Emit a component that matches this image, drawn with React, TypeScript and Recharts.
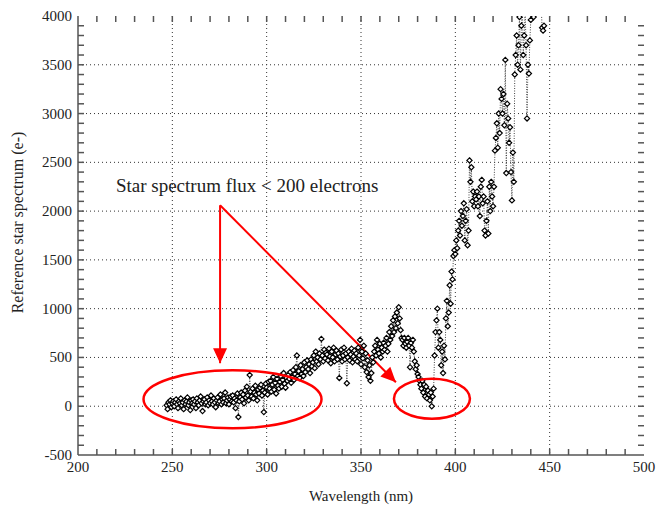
import React from "react"
import {
  ComposedChart,
  Line,
  XAxis,
  YAxis,
  CartesianGrid,
  ReferenceDot,
  ReferenceLine,
} from "recharts"

// flux (e-) sampled every 0.5 nm starting at 247 nm, one row = 5 nm
const WAVE_START = 247
const WAVE_STEP = 0.5
const fluxRows: number[][] = [
  [10, -30, 40, 20, 60, -10, 30, 50, 0, 40],
  [70, 20, -20, 50, 30, 80, 10, 40, -30, 60],
  [20, 50, 90, 10, 40, -40, 60, 30, 70, 20],
  [50, -20, 80, 40, 10, 60, 100, 30, -50, 50],
  [70, 20, 40, 90, 10, 60, 30, 110, 50, 20],
  [80, 40, -10, 60, 90, 30, 50, 120, 20, 70],
  [40, 80, 140, 30, 60, 90, 20, 70, 100, 50],
  [110, 40, 80, -20, 60, 130, -110, 50, 90, 140],
  [70, 120, 30, 160, 90, 200, 110, 60, 320, 150],
  [100, 180, 80, 140, 210, 120, 60, 170, 130, 190],
  [220, 110, 160, -60, 140, 230, 190, 120, 250, 180],
  [260, 150, 220, 300, 170, 240, 130, 280, 210, 180],
  [250, 310, 200, 270, 340, 230, 190, 290, 260, 320],
  [280, 350, 240, 300, 370, 270, 330, 400, 520, 310],
  [360, 290, 420, 330, 380, 310, 450, 350, 400, 470],
  [380, 430, 340, 480, 410, 450, 520, 390, 560, 460],
  [500, 430, 540, 480, 690, 520, 460, 580, 490, 550],
  [530, 470, 590, 510, 440, 560, 500, 600, 460, 530],
  [570, 480, 540, 290, 510, 580, 460, 520, 600, 480],
  [540, 235, 500, 560, 470, 530, 590, 450, 510, 570],
  [480, 540, 460, 600, 520, 680, 430, 560, 490, 620],
  [400, 540, 350, 470, 300, 420, 260, 340, 500, 450],
  [560, 620, 520, 680, 580, 540, 640, 500, 600, 560],
  [650, 580, 620, 700, 560, 640, 760, 680, 820, 720],
  [880, 760, 920, 800, 960, 850, 1015, 900, 780, 700],
  [680, 620, 700, 640, 600, 660, 700, 620, 400, 650],
  [600, 680, 560, 460, 380, 420, 330, 300, 260, 220],
  [180, 260, 140, 220, 100, 200, 80, 160, 120, 60],
  [140, 0, 100, 180, 520, 760, 880, 1000, 600, 760],
  [680, 420, 560, 340, 620, 480, 900, 1080, 820, 960],
  [1240, 1050, 1380, 1300, 1540, 1600, 1560, 1700, 1620, 1800],
  [1900, 1750, 2000, 1850, 1950, 2080, 1700, 1900, 2020, 1650],
  [1800, 2520, 2300, 2450, 2100, 2200, 2050, 2150, 2120, 2200],
  [2050, 2150, 1950, 2250, 2320, 2080, 2150, 1800, 1750, 1900],
  [2100, 1770, 2250, 2000, 2300, 2150, 2050, 2250, 2620, 2750],
  [2900, 2650, 3000, 2800, 3250, 3150, 3000, 3200, 2880, 3550],
  [2390, 3100, 2950, 2700, 2860, 2400, 2110, 2600, 2300, 3400],
  [3600, 3800, 3500, 3700, 3990, 3450, 3900, 4100, 3600, 3800],
  [4050, 3700, 2950, 3500, 3410, 3750, 3960, 4030, 4100, 3990],
  [4050, 4200, 4100, 4300, 4150, 4200, 4250, 4100, 3880, 3850],
  [3900],
]

const xTicks = [
  200, 210, 220, 230, 240, 250, 260, 270, 280, 290, 300, 310, 320, 330, 340, 350,
  360, 370, 380, 390, 400, 410, 420, 430, 440, 450, 460, 470, 480, 490, 500,
]
const xGrid = [250, 300, 350, 400, 450]
const yTicks = [
  -500, -400, -300, -200, -100, 0, 100, 200, 300, 400, 500, 600, 700, 800, 900, 1000,
  1100, 1200, 1300, 1400, 1500, 1600, 1700, 1800, 1900, 2000, 2100, 2200, 2300, 2400,
  2500, 2600, 2700, 2800, 2900, 3000, 3100, 3200, 3300, 3400, 3500, 3600, 3700, 3800,
  3900, 4000,
]
const yGrid = [0, 500, 1000, 1500, 2000, 2500, 3000, 3500]
const X_MIN = 200
const X_MAX = 500
const Y_MIN = -500
const Y_MAX = 4000

// annotation anchors in data units
const noteText = "Star spectrum flux < 200 electrons"
const notePos = { x: 220.1, y: 2193 }
const arrowFrom = { x: 275.3, y: 2060 }
const arrowTips = [
  { x: 275.3, y: 441 },
  { x: 368.5, y: 246 },
]
const ellipses = [
  { x: 281.9, y: 72, rx: 89, ry: 29 },
  { x: 387.6, y: 77, rx: 38, ry: 20 },
]

const data = fluxRows.flat().map((flux, i) => ({
  wavelength: WAVE_START + i * WAVE_STEP,
  flux,
}))

const W = 657
const H = 508
const margin = { top: 16, right: 13, bottom: 3, left: 8 }
const plotW = W - margin.left - 70 - margin.right
const plotH = H - margin.top - 50 - margin.bottom
const pxX = plotW / (X_MAX - X_MIN)
const pxY = plotH / (Y_MAX - Y_MIN)

const FONT = "'Liberation Serif', 'Times New Roman', serif"
const AXIS = "#555"
const TEXT = "#222"
const RED = "#f00"
const TICK = 6
const tickDX = TICK / pxX
const tickDY = TICK / pxY

const BottomTick = (p: any) => {
  const v = p.payload.value
  if (v % 50 !== 0) return <g />
  return (
    <text x={p.x} y={p.y + 17} textAnchor="middle" fontSize={15} fontFamily={FONT} fill={TEXT}>
      {v}
    </text>
  )
}
const LeftTick = (p: any) => {
  const v = p.payload.value
  if (v % 500 !== 0) return <g />
  return (
    <text x={p.x - 6} y={p.y + 5} textAnchor="end" fontSize={15} fontFamily={FONT} fill={TEXT}>
      {v}
    </text>
  )
}

const YLabel = () => {
  const cx = margin.left + 15
  const cy = margin.top + plotH / 2 - 13
  return (
    <text
      x={cx}
      y={cy}
      transform={`rotate(-90, ${cx}, ${cy})`}
      textAnchor="middle"
      fontSize={16}
      fontFamily={FONT}
      fill={TEXT}
    >
      Reference star spectrum (e-)
    </text>
  )
}

const Diamond = (p: any) => {
  const { cx, cy } = p
  if (cx == null || cy == null) return null
  return (
    <polygon
      key={p.index}
      points={`${cx},${cy - 2.6} ${cx + 2.6},${cy} ${cx},${cy + 2.6} ${cx - 2.6},${cy}`}
      fill="#fff"
      stroke="#000"
      strokeWidth={1.2}
    />
  )
}

const headShape = (from: { x: number; y: number }, to: { x: number; y: number }) => {
  const ang = (Math.atan2(-(to.y - from.y) * pxY, (to.x - from.x) * pxX) * 180) / Math.PI
  return (p: any) => (
    <polygon
      points="0,0 -15,-7 -15,7"
      transform={`translate(${p.cx},${p.cy}) rotate(${ang})`}
      fill={RED}
    />
  )
}

// inward tick marks on all four sides
const tickSegments = [
  ...xTicks.slice(1, -1).flatMap((v) => [
    [{ x: v, y: Y_MIN }, { x: v, y: Y_MIN + tickDY }],
    [{ x: v, y: Y_MAX }, { x: v, y: Y_MAX - tickDY }],
  ]),
  ...yTicks.slice(1, -1).flatMap((v) => [
    [{ x: X_MIN, y: v }, { x: X_MIN + tickDX, y: v }],
    [{ x: X_MAX, y: v }, { x: X_MAX - tickDX, y: v }],
  ]),
]

export default function App() {
  return (
    <div
      style={{
        position: "absolute",
        left: 0,
        top: 0,
        width: W,
        height: H,
        background: "#fff",
        fontFamily: FONT,
      }}
    >
      <ComposedChart width={W} height={H} data={data} margin={margin}>
        <CartesianGrid
          stroke="#333"
          strokeDasharray="1 3"
          verticalValues={xGrid}
          horizontalValues={yGrid}
        />
        <XAxis
          dataKey="wavelength"
          type="number"
          domain={[X_MIN, X_MAX]}
          ticks={xTicks}
          interval={0}
          height={50}
          tickSize={0}
          tickMargin={0}
          tickLine={false}
          tick={BottomTick}
          axisLine={{ stroke: AXIS, strokeWidth: 1.5 }}
          label={{
            value: "Wavelength (nm)",
            position: "insideBottom",
            offset: 4,
            fontSize: 15,
            fontFamily: FONT,
            fill: TEXT,
          }}
        />
        <XAxis
          xAxisId="top"
          orientation="top"
          dataKey="wavelength"
          type="number"
          domain={[X_MIN, X_MAX]}
          height={0}
          tickLine={false}
          tick={false}
          axisLine={{ stroke: AXIS, strokeWidth: 1.5 }}
        />
        <YAxis
          type="number"
          domain={[Y_MIN, Y_MAX]}
          allowDataOverflow
          ticks={yTicks}
          interval={0}
          width={70}
          tickSize={0}
          tickMargin={0}
          tickLine={false}
          tick={LeftTick}
          axisLine={{ stroke: AXIS, strokeWidth: 1.5 }}
          label={{ content: YLabel }}
        />
        <YAxis
          yAxisId="right"
          orientation="right"
          type="number"
          domain={[Y_MIN, Y_MAX]}
          width={0}
          tickLine={false}
          tick={false}
          axisLine={{ stroke: AXIS, strokeWidth: 1.5 }}
        />
        {tickSegments.map((s, i) => (
          <ReferenceLine
            key={"t" + i}
            segment={s}
            stroke={AXIS}
            strokeWidth={1.5}
            ifOverflow="visible"
          />
        ))}
        <Line
          dataKey="flux"
          type="linear"
          stroke="#444"
          strokeWidth={1}
          strokeDasharray="1 1.5"
          dot={Diamond}
          activeDot={false}
          isAnimationActive={false}
        />
        {ellipses.map((e, i) => (
          <ReferenceDot
            key={"e" + i}
            x={e.x}
            y={e.y}
            ifOverflow="visible"
            shape={(p: any) => (
              <ellipse cx={p.cx} cy={p.cy} rx={e.rx} ry={e.ry} fill="none" stroke={RED} strokeWidth={2.5} />
            )}
          />
        ))}
        {arrowTips.map((t, i) => (
          <ReferenceLine
            key={"a" + i}
            segment={[arrowFrom, t]}
            stroke={RED}
            strokeWidth={2}
            ifOverflow="visible"
          />
        ))}
        {arrowTips.map((t, i) => (
          <ReferenceDot key={"h" + i} x={t.x} y={t.y} ifOverflow="visible" shape={headShape(arrowFrom, t)} />
        ))}
        <ReferenceDot
          x={notePos.x}
          y={notePos.y}
          ifOverflow="visible"
          shape={(p: any) => (
            <text x={p.cx} y={p.cy} fontSize={19} fontFamily={FONT} fill={TEXT}>
              {noteText}
            </text>
          )}
        />
      </ComposedChart>
    </div>
  )
}
